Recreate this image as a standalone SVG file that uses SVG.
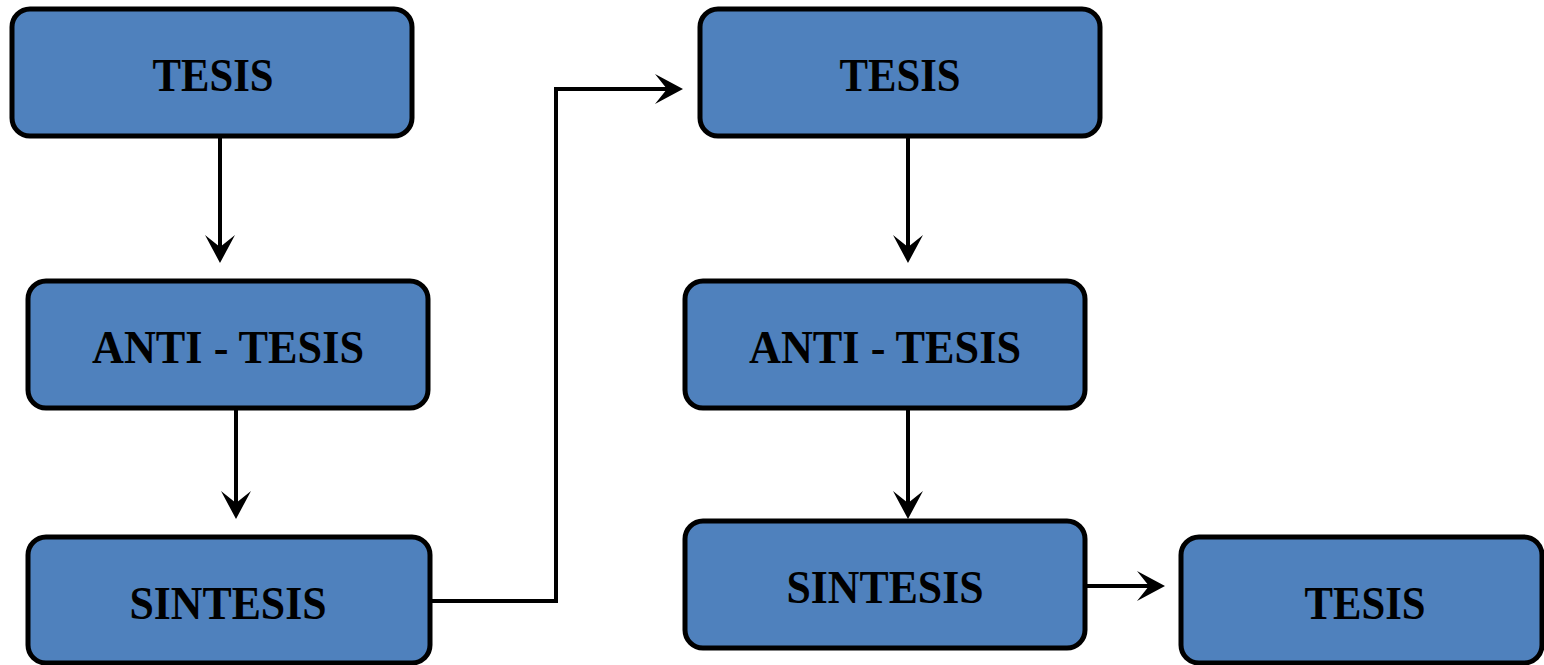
<svg xmlns="http://www.w3.org/2000/svg" width="1544" height="665" viewBox="0 0 1544 665">
<style>
.box{fill:#4f81bd;stroke:#000;stroke-width:5}
.lbl{font-family:"Liberation Serif","DejaVu Serif",serif;font-weight:bold;font-size:47px;fill:#000;text-anchor:middle}
.con{fill:none;stroke:#000;stroke-width:4}
</style>
<defs>
<marker id="ah" viewBox="-18 -16 32 32" refX="0" refY="0" markerWidth="32" markerHeight="32" markerUnits="userSpaceOnUse" orient="auto">
<path d="M12,0 L-16,-15 L-4,0 L-16,15 Z" fill="#000"/>
</marker>
</defs>
<rect width="1544" height="665" fill="#fff"/>
<g id="connectors">
<path class="con" d="M220,137 V251" marker-end="url(#ah)"/>
<path class="con" d="M236,409 V507" marker-end="url(#ah)"/>
<path class="con" d="M430,601 H556 V89 H671" marker-end="url(#ah)"/>
<path class="con" d="M908,137 V251" marker-end="url(#ah)"/>
<path class="con" d="M908,409 V507" marker-end="url(#ah)"/>
<path class="con" d="M1087,586 H1153" marker-end="url(#ah)"/>
</g>
<g id="n1"><rect class="box" x="12" y="9" width="400" height="127" rx="18"/><text class="lbl" x="213" y="91" textLength="121" lengthAdjust="spacingAndGlyphs">TESIS</text></g>
<g id="n2"><rect class="box" x="28" y="281" width="400" height="127" rx="18"/><text class="lbl" x="228" y="363" textLength="272" lengthAdjust="spacingAndGlyphs">ANTI - TESIS</text></g>
<g id="n3"><rect class="box" x="28" y="537" width="402" height="126" rx="18"/><text class="lbl" x="228" y="619" textLength="197" lengthAdjust="spacingAndGlyphs">SINTESIS</text></g>
<g id="n4"><rect class="box" x="700" y="9" width="400" height="127" rx="18"/><text class="lbl" x="900" y="91" textLength="121" lengthAdjust="spacingAndGlyphs">TESIS</text></g>
<g id="n5"><rect class="box" x="685" y="281" width="400" height="127" rx="18"/><text class="lbl" x="885" y="363" textLength="272" lengthAdjust="spacingAndGlyphs">ANTI - TESIS</text></g>
<g id="n6"><rect class="box" x="685" y="521" width="400" height="127" rx="18"/><text class="lbl" x="885" y="603" textLength="197" lengthAdjust="spacingAndGlyphs">SINTESIS</text></g>
<g id="n7"><rect class="box" x="1181" y="537" width="361" height="126" rx="18"/><text class="lbl" x="1365" y="619" textLength="121" lengthAdjust="spacingAndGlyphs">TESIS</text></g>
</svg>
